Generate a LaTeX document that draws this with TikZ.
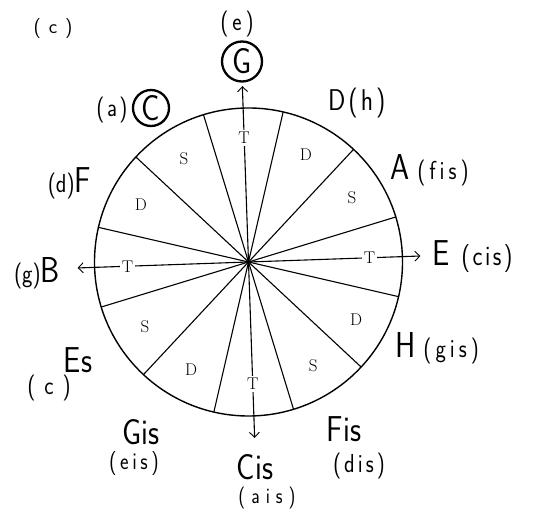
\documentclass[tikz,border=0pt]{standalone}
\usepackage{fontspec}
\newfontfamily\hand{lmsans17-regular.otf}[FakeStretch=0.85]
\usetikzlibrary{arrows.meta}
\newcommand\pfs[2][26]{{\fontsize{#1}{#1}\selectfont #2}}
\newcommand\ks[1][3pt]{\kern#1}
\begin{document}
\begin{tikzpicture}[x=1pt,y=1pt,
  rim/.style={line width=1.4pt},
  spoke/.style={line width=1.1pt},
  axis/.style={line width=1.1pt,-{Straight Barb[length=5pt,width=10pt,line width=0.9pt]}},
  sec/.style={font=\fontsize{17}{17}\selectfont, inner sep=1pt},
  tlab/.style={font=\fontsize{17}{17}\selectfont, fill=white, inner sep=2pt},
  note/.style={font=\hand\fontsize{36}{36}\selectfont, inner sep=0pt},
  small/.style={font=\hand\fontsize{26}{26}\selectfont, inner sep=0pt},
  ring/.style={circle, draw, line width=2.3pt, inner sep=0pt}]
\useasboundingbox (0,0) rectangle (533,509);
\coordinate (O) at (248.5,247);
% wheel
\draw[rim] (O) circle (154);
\foreach \a in {17,47,...,347}
  \draw[spoke] (O) -- ++(\a:154);
% tonic axes
\path (O) ++(92:176) coordinate (tipN);
\path (O) ++(2:172) coordinate (tipE);
\path (O) ++(272:176) coordinate (tipS);
\path (O) ++(182:171) coordinate (tipW);
\draw[axis] (O) -- (tipN);
\draw[axis] (O) -- (tipE);
\draw[axis] (O) -- (tipS);
\draw[axis] (O) -- (tipW);
\path (O) ++(92:124) node[tlab] (tN) {T};
\path (O) ++(2:121) node[tlab] (tE) {T};
\path (O) ++(272:122) node[tlab] (tS) {T};
\path (O) ++(182:121) node[tlab] (tW) {T};
% sector letters
\path (O) ++(62:122) node[sec] (d1) {D};
\path (O) ++(32:122) node[sec] (s1) {S};
\path (O) ++(-28:122) node[sec] (d2) {D};
\path (O) ++(-58:122) node[sec] (s2) {S};
\path (O) ++(-118:122) node[sec] (d3) {D};
\path (O) ++(-148:122) node[sec] (s3) {S};
\path (O) ++(152:122) node[sec] (d4) {D};
\path (O) ++(122:122) node[sec] (s4) {S};
% labels
\node[font=\sffamily\fontsize{20}{20}\selectfont, inner sep=0pt] (lc) at (53,480) {(\ks[8pt]c\ks[8pt])};
\node[small] (le) at (237,485) {(\ks[4pt]e\ks[4pt])};
\node[note, ring, minimum size=40pt] (lG) at (242,447.5) {G};
\node[small] (la) at (112,399) {(\ks[2.5pt]a\ks[2.5pt])};
\node[note, ring, minimum size=36pt] (lC) at (151,401) {C};
\node[font=\hand\fontsize{30}{30}\selectfont, inner sep=0pt, anchor=west] (lD) at (328,406) {D\ks(\ks h\ks)};
\node[note, anchor=west] (lA) at (390,339) {A\ks[8pt]\pfs{(\ks[4pt]f\ks[4pt]i\ks[4pt]s\ks[4pt])}};
\node[note] (lF) at (69.5,326) {\pfs{(d)}F};
\node[note] (lB) at (37,236) {\pfs{(g)}B};
\node[note, anchor=west] (lE) at (432,252) {E\ks[12pt]\pfs[28]{(\ks[2.5pt]c\ks[2.5pt]i\ks[2.5pt]s\ks[2.5pt])}};
\node[note, anchor=west] (lH) at (395,161) {H\ks[8pt]\pfs{(\ks[4pt]g\ks[4pt]i\ks[4pt]s\ks[4pt])}};
\node[note] (lEs) at (78,149) {Es};
\node[small] (lEsm) at (49,121) {(\ks[9pt]c\ks[9pt])};
\node[note] (lGis) at (141,77) {Gis};
\node[font=\hand\fontsize{24}{24}\selectfont, inner sep=0pt] (lGism) at (134,45) {(\ks[3.6pt]e\ks[3.6pt]i\ks[3.6pt]s\ks[3.6pt])};
\node[note] (lFis) at (344,80) {Fis};
\node[small] (lFism) at (359,43) {(\ks d\ks i\ks s\ks)};
\node[note] (lCis) at (255,42) {Cis};
\node[font=\hand\fontsize{22}{22}\selectfont, inner sep=0pt] (lCism) at (267,11) {(\ks[6pt]a\ks[6pt]i\ks[6pt]s\ks[6pt])};
\end{tikzpicture}
\end{document}
